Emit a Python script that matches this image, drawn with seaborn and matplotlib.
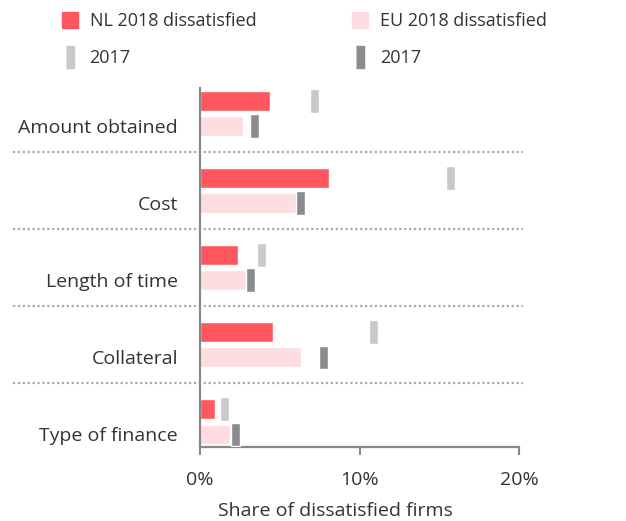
import pandas as pd
import numpy as np
import matplotlib
matplotlib.use('Agg')
import matplotlib.pyplot as plt
import seaborn as sns
from matplotlib.lines import Line2D

# values (share of dissatisfied firms, %)
categories = ['Amount obtained', 'Cost', 'Length of time', 'Collateral', 'Type of finance']
nl_2018 = [4.36, 8.09, 2.38, 4.57, 0.91]
eu_2018 = [2.67, 6.06, 2.86, 6.31, 1.91]
nl_2017 = [7.2, 15.7, 3.83, 10.86, 1.51]
eu_2017 = [3.42, 6.3, 3.14, 7.72, 2.2]
x_ticks = [0, 10, 20]
x_ticklabels = ['0%', '10%', '20%']

sns.set_style('white')
plt.rcParams['font.family'] = ['Open Sans', 'DejaVu Sans']

red = '#FF575E'
pink = '#FEDDE0'
light_gray = '#C9C9C9'
dark_gray = '#8A8C8F'
axis_gray = '#888888'
text_col = '#333333'
fs = 14

df = pd.DataFrame({
    'category': categories * 2,
    'value': nl_2018 + eu_2018,
    'series': ['NL 2018 dissatisfied'] * 5 + ['EU 2018 dissatisfied'] * 5,
})

fig = plt.figure(figsize=(6.26, 5.21), dpi=100)
ax = fig.add_axes([0.3195, 0.142, 0.5096, 0.689])

sns.barplot(data=df, x='value', y='category', hue='series', orient='h',
            palette=[red, pink], width=0.66, gap=0.23, saturation=1,
            legend=False, ax=ax)

# 2017 markers: thin vertical blocks centred on the 2017 value
off = 0.165
mw = 0.56
ypos = np.arange(len(categories))
ax.barh(ypos - off, width=mw, left=np.array(nl_2017) - mw / 2, height=0.305,
        color=light_gray, zorder=3)
ax.barh(ypos + off, width=mw, left=np.array(eu_2017) - mw / 2, height=0.305,
        color=dark_gray, zorder=3)

# dotted separators between groups, running under the labels
for y in ypos[:-1] + 0.5:
    ax.axhline(y, xmin=-0.586, xmax=1.013, clip_on=False, color='#AAAAAA',
               lw=1.6, ls=(0, (1, 1.2)), zorder=0)

ax.set_xlim(0, 20)
ax.set_ylim(4.33, -0.33)
ax.set_xticks(x_ticks, labels=x_ticklabels)
ax.set_yticks(ypos + off, labels=categories)
ax.tick_params(axis='y', length=0, pad=16, labelsize=fs, labelcolor=text_col)
ax.tick_params(axis='x', length=6, width=1.5, color=axis_gray, pad=11,
               labelsize=fs, labelcolor=text_col, bottom=True)
ax.set_xlabel('Share of dissatisfied firms', fontsize=fs, color=text_col)
ax.xaxis.set_label_coords(0.423, -0.153)
ax.set_ylabel('')

sns.despine(ax=ax, top=True, right=True)
for s in ['left', 'bottom']:
    ax.spines[s].set_color(axis_gray)
    ax.spines[s].set_linewidth(1.6)

bar_marker = [(-0.17, -0.5), (0.17, -0.5), (0.17, 0.5), (-0.17, 0.5)]
handles = [
    Line2D([], [], ls='none', marker='s', markersize=12, color=red),
    Line2D([], [], ls='none', marker=bar_marker, markersize=16, color=light_gray),
    Line2D([], [], ls='none', marker='s', markersize=12, color=pink),
    Line2D([], [], ls='none', marker=bar_marker, markersize=16, color=dark_gray),
]
labels = ['NL 2018 dissatisfied', '2017', 'EU 2018 dissatisfied', '2017']
fig.legend(handles, labels, ncol=2, frameon=False, loc='upper left',
           bbox_to_anchor=(0.068, 1.008), fontsize=13, labelcolor=text_col,
           handlelength=1.2, handletextpad=0.5, columnspacing=5.15,
           labelspacing=1.05)

fig.savefig('out.png', dpi=100)
